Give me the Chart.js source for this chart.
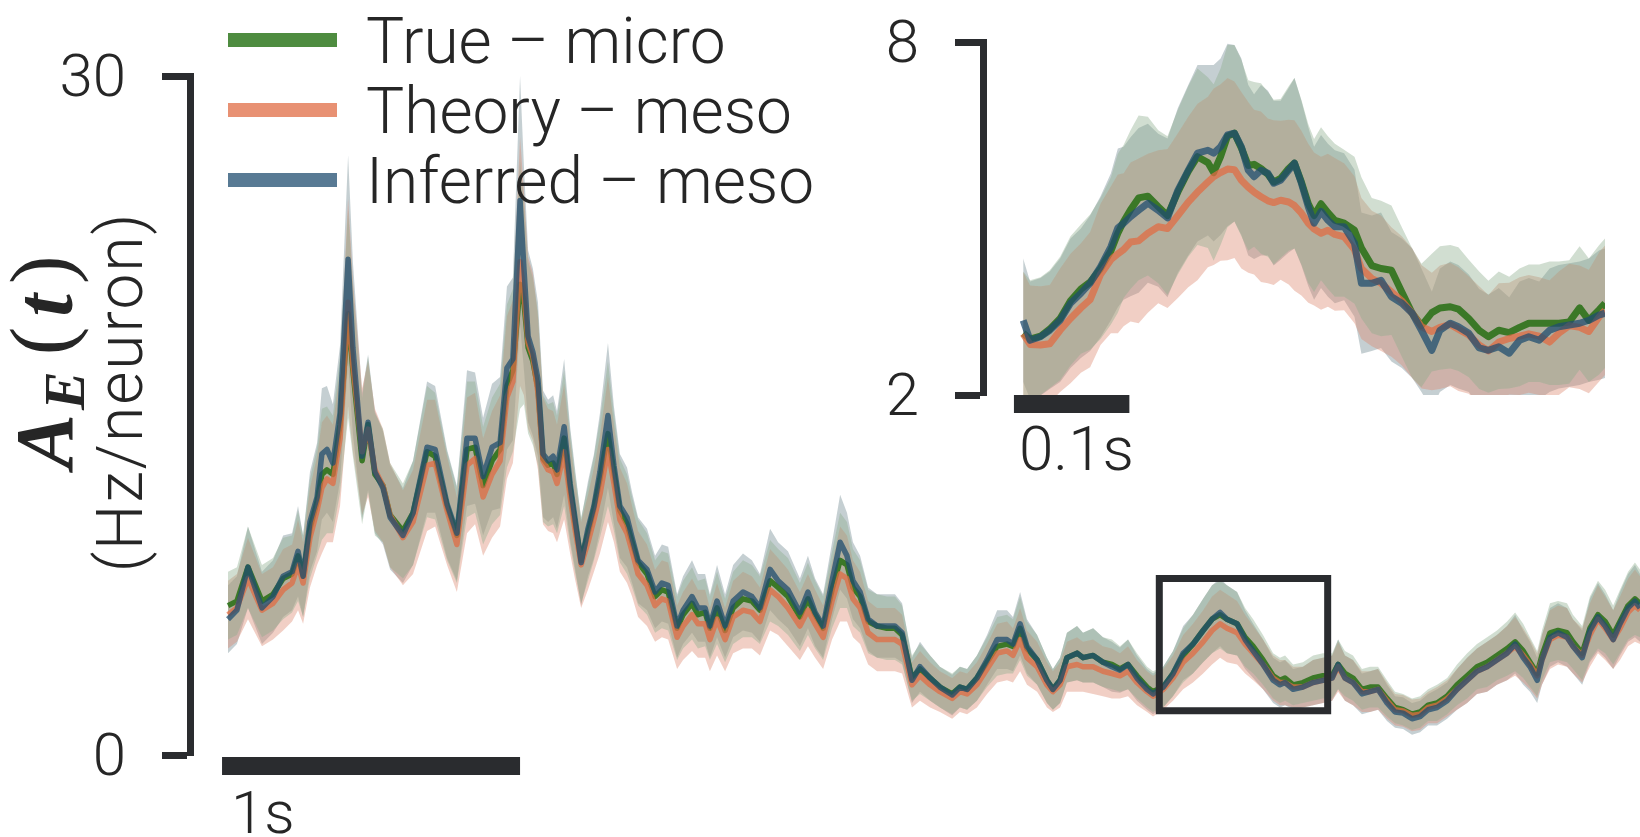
<!DOCTYPE html>
<html>
<head>
<meta charset="utf-8">
<script src="https://cdn.jsdelivr.net/npm/chart.js@4.4.1/dist/chart.umd.min.js"></script>
<style>
  html, body { margin: 0; padding: 0; background: #ffffff; }
  #wrap { position: relative; width: 1640px; height: 837px; overflow: hidden; }
  #mainChart { position: absolute; left: 0; top: 0; }
  #insetChart { position: absolute; left: 800px; top: 0; }
</style>
</head>
<body>
<div id="wrap">
  <canvas id="mainChart" width="1640" height="837"></canvas>
  <canvas id="insetChart" width="840" height="480"></canvas>
</div>
<script>
// ---- population activity A_E(t), full trace (seconds, Hz/neuron) ----
const timeS = [
  0.000,0.030,0.067,0.114,0.151,0.185,0.215,0.235,0.252,0.275,
  0.299,0.315,0.332,0.352,0.376,0.403,0.419,0.450,0.470,0.493,
  0.520,0.544,0.587,0.621,0.668,0.695,0.735,0.768,0.802,0.829,
  0.856,0.886,0.913,0.936,0.956,0.980,0.993,1.007,1.023,1.040,
  1.057,1.074,1.091,1.104,1.128,1.148,1.164,1.185,1.208,1.228,
  1.248,1.275,1.295,1.315,1.339,1.356,1.376,1.406,1.433,1.456,
  1.477,1.507,1.527,1.557,1.577,1.601,1.617,1.641,1.668,1.695,
  1.728,1.758,1.785,1.819,1.846,1.879,1.919,1.946,1.970,1.997,
  2.027,2.054,2.077,2.097,2.121,2.148,2.178,2.211,2.238,2.262,
  2.295,2.322,2.356,2.389,2.430,2.456,2.480,2.513,2.547,2.581,
  2.614,2.634,2.658,2.681,2.715,2.748,2.768,2.792,2.815,2.849,
  2.869,2.903,2.936,2.966,2.993,3.020,3.050,3.084,3.104,3.138,
  3.171,3.205,3.238,3.272,3.302,3.329,3.352,3.386,3.413,3.440,
  3.473,3.507,3.530,3.547,3.574,3.607,3.641,3.674,3.705,3.725,
  3.748,3.775,3.805,3.832,3.859,3.889,3.916,3.943,3.973,4.000,
  4.027,4.057,4.091,4.124,4.158,4.191,4.225,4.258,4.292,4.319,
  4.346,4.369,4.393,4.409,4.436,4.463,4.493,4.513,4.544,4.570,
  4.597,4.621,4.648,4.671,4.698,4.721,4.738
];
const trueMicro = [
  6.6,6.8,8.3,6.8,7.1,7.8,8.0,8.8,7.9,10.0,
  11.2,12.4,12.6,12.4,14.6,19.5,17.0,13.0,14.6,12.4,
  11.9,10.6,9.9,10.7,13.4,13.2,11.0,9.7,13.5,13.6,
  11.9,13.0,13.5,16.3,17.0,20.8,20.0,18.0,17.4,16.2,
  13.1,12.8,12.9,12.4,14.0,11.8,10.3,8.6,9.8,10.9,
  12.2,14.2,12.5,10.8,10.2,9.4,8.5,8.0,7.0,7.3,
  7.2,5.6,6.2,6.7,6.2,6.3,5.6,6.5,5.5,6.5,
  6.9,6.8,6.4,7.7,7.4,7.0,6.1,6.9,6.2,5.6,
  7.3,8.6,8.4,7.4,7.0,5.9,5.7,5.6,5.6,5.3,
  3.4,3.8,3.4,3.0,2.7,3.0,2.9,3.4,4.1,4.8,
  4.9,4.8,5.6,4.7,4.2,3.3,2.9,3.3,4.3,4.5,
  4.3,4.4,4.1,4.0,3.8,4.0,3.5,3.0,2.8,3.0,
  3.6,4.4,4.9,5.5,6.0,6.2,6.0,5.8,5.2,4.8,
  4.2,3.5,3.3,3.4,3.1,3.2,3.4,3.5,3.5,4.0,
  3.6,3.4,2.9,3.0,3.0,2.5,2.1,2.0,1.8,1.9,
  2.2,2.3,2.6,3.1,3.5,3.9,4.1,4.4,4.7,5.0,
  4.6,4.1,3.6,4.4,5.4,5.5,5.4,5.0,4.5,5.6,
  6.2,5.9,5.3,5.9,6.6,6.9,6.7
];
const theoryMeso = [
  6.2,6.5,7.8,6.4,6.7,7.3,7.6,8.4,7.6,9.6,
  10.8,11.8,12.2,12.0,14.0,20.0,17.2,13.4,14.4,12.6,
  11.9,10.6,9.6,10.3,12.8,12.9,10.8,9.3,12.8,13.1,
  11.4,12.4,13.0,15.8,16.5,21.8,20.4,18.2,17.6,16.0,
  13.0,12.6,12.5,12.0,13.4,11.4,10.0,8.4,9.4,10.4,
  11.5,13.5,12.0,10.4,9.8,9.0,8.0,7.5,6.6,6.9,
  6.8,5.2,5.7,6.2,5.8,5.8,5.1,6.0,5.1,6.1,
  6.4,6.3,5.9,7.3,7.0,6.5,5.7,6.4,5.8,5.2,
  6.8,8.0,7.8,6.9,6.5,5.4,5.1,5.1,5.1,4.9,
  3.1,3.5,3.1,2.8,2.5,2.8,2.7,3.1,3.8,4.5,
  4.6,4.4,5.1,4.3,3.9,3.1,2.8,3.1,3.9,4.0,
  3.9,3.9,3.7,3.6,3.5,3.7,3.2,2.8,2.6,2.9,
  3.4,4.1,4.5,5.0,5.5,5.8,5.6,5.4,4.9,4.5,
  4.0,3.4,3.2,3.2,3.0,3.0,3.2,3.3,3.4,3.9,
  3.4,3.2,2.8,2.8,2.9,2.4,2.0,1.95,1.75,1.8,
  2.1,2.2,2.5,2.9,3.3,3.7,3.9,4.2,4.5,4.8,
  4.4,4.0,3.5,4.2,5.1,5.3,5.2,4.8,4.4,5.3,
  6.0,5.6,5.1,5.6,6.3,6.6,6.4
];
const inferredMeso = [
  6.0,6.4,8.3,6.5,7.0,7.9,8.1,9.0,7.9,10.3,
  11.4,13.3,13.5,12.9,15.1,21.9,18.0,13.2,14.7,12.5,
  11.8,10.5,9.7,10.7,13.6,13.5,11.1,9.8,14.0,14.0,
  12.3,13.6,13.8,17.1,17.5,24.5,21.5,18.5,17.8,16.6,
  13.3,13.0,13.2,12.6,14.5,12.0,10.5,8.5,10.0,11.0,
  12.5,15.0,12.8,11.0,10.5,9.6,8.6,8.2,7.2,7.6,
  7.5,5.7,6.4,7.0,6.5,6.5,5.7,6.8,5.7,6.8,
  7.2,7.0,6.5,8.2,7.7,7.3,6.3,7.2,6.3,5.7,
  7.7,9.4,8.8,7.7,7.2,6.0,5.7,5.7,5.7,5.4,
  3.3,3.9,3.4,3.0,2.65,3.0,2.9,3.4,4.2,5.1,
  5.1,4.9,5.8,4.8,4.2,3.3,2.9,3.3,4.3,4.5,
  4.3,4.4,4.1,3.9,3.75,4.0,3.4,2.9,2.7,3.0,
  3.6,4.5,4.9,5.5,6.0,6.3,6.0,5.8,5.1,4.6,
  4.0,3.3,3.1,3.2,2.9,3.0,3.2,3.3,3.4,4.0,
  3.4,3.2,2.7,2.8,2.9,2.3,1.9,1.85,1.6,1.7,
  2.0,2.1,2.4,2.9,3.3,3.7,3.9,4.2,4.5,4.9,
  4.3,3.9,3.3,4.2,5.2,5.4,5.2,4.8,4.3,5.5,
  6.1,5.7,5.1,5.8,6.5,6.8,6.5
];
// trial-to-trial spread (one standard deviation) around each mean trace
const spreadMain = [
  1.5,1.5,1.8,1.6,1.6,1.8,1.7,2.0,1.8,2.2,
  2.4,2.9,2.8,2.6,3.0,4.6,3.8,2.8,3.0,2.7,
  2.5,2.3,2.1,2.3,2.9,2.8,2.4,2.1,3.0,2.9,
  2.6,2.8,2.9,3.6,3.6,5.5,4.5,3.8,3.7,3.4,
  2.8,2.7,2.7,2.6,3.0,2.5,2.2,1.9,2.1,2.3,
  2.6,3.2,2.6,2.3,2.2,2.0,1.9,1.8,1.6,1.7,
  1.7,1.4,1.5,1.6,1.5,1.5,1.4,1.6,1.4,1.6,
  1.7,1.6,1.5,1.8,1.7,1.7,1.5,1.6,1.5,1.4,
  1.7,2.1,1.9,1.7,1.6,1.4,1.4,1.4,1.4,1.3,
  1.0,1.1,1.0,0.9,0.9,0.9,0.9,1.0,1.1,1.3,
  1.3,1.2,1.4,1.2,1.1,1.0,0.9,1.0,1.1,1.2,
  1.1,1.2,1.1,1.1,1.0,1.1,1.0,0.9,0.9,0.9,
  1.0,1.2,1.3,1.4,1.5,1.5,1.5,1.4,1.3,1.2,
  1.1,1.0,1.0,1.0,0.9,0.9,1.0,1.0,1.0,1.1,
  1.0,1.0,0.9,0.9,0.9,0.8,0.7,0.7,0.7,0.7,
  0.7,0.8,0.8,0.9,1.0,1.0,1.1,1.1,1.2,1.3,
  1.2,1.1,1.0,1.1,1.3,1.3,1.3,1.2,1.2,1.4,
  1.5,1.4,1.3,1.4,1.5,1.6,1.5
];

// ---- zoomed window (time relative to window start, s) ----
const insetTimeS = [
  0.000,0.006,0.015,0.023,0.032,0.041,0.050,0.058,0.067,0.076,
  0.082,0.087,0.093,0.100,0.108,0.117,0.125,0.134,0.143,0.151,
  0.160,0.165,0.171,0.177,0.183,0.189,0.195,0.200,0.206,0.212,
  0.217,0.223,0.230,0.235,0.241,0.247,0.252,0.258,0.264,0.270,
  0.278,0.287,0.293,0.302,0.310,0.319,0.328,0.337,0.345,0.354,
  0.361,0.370,0.377,0.386,0.395,0.403,0.412,0.421,0.430,0.438,
  0.447,0.456,0.464,0.473,0.482,0.490,0.499,0.504
];
const insetTrue = [
  3.05,2.95,3.00,3.12,3.30,3.60,3.80,3.92,4.15,4.45,
  4.75,4.95,5.15,5.35,5.38,5.20,5.05,5.45,5.80,6.05,
  5.95,5.78,6.05,6.40,6.45,6.20,5.90,5.92,5.85,5.75,
  5.62,5.68,5.85,5.94,5.62,5.25,5.05,5.25,5.10,4.97,
  4.92,4.80,4.50,4.20,4.15,4.12,3.75,3.39,3.18,3.40,
  3.48,3.50,3.46,3.30,3.10,2.99,3.10,3.06,3.15,3.22,
  3.22,3.22,3.22,3.24,3.48,3.27,3.45,3.56
];
const insetTheory = [
  3.04,2.86,2.85,2.87,3.10,3.30,3.48,3.62,4.05,4.30,
  4.40,4.47,4.60,4.62,4.75,4.86,4.83,5.05,5.28,5.45,
  5.62,5.71,5.78,5.84,5.83,5.65,5.53,5.45,5.37,5.30,
  5.27,5.31,5.28,5.22,5.09,4.92,4.82,4.75,4.80,4.73,
  4.69,4.47,4.15,3.98,3.90,3.75,3.60,3.39,3.16,3.08,
  3.15,3.20,3.12,3.02,2.85,2.75,2.90,2.96,3.00,3.04,
  3.00,2.90,3.05,3.18,3.15,3.08,3.33,3.44
];
const insetInferred = [
  3.27,2.93,2.99,3.10,3.27,3.56,3.73,3.90,4.18,4.52,
  4.84,4.92,5.03,5.14,5.26,5.14,5.01,5.48,5.82,6.11,
  6.16,6.11,6.22,6.42,6.45,6.22,5.82,5.71,5.82,5.77,
  5.60,5.65,5.82,5.94,5.60,5.20,4.92,5.12,4.97,4.86,
  4.86,4.58,3.90,3.90,3.95,3.67,3.56,3.39,3.10,2.76,
  3.10,3.22,3.16,3.05,2.80,2.76,2.82,2.71,2.93,2.99,
  2.93,3.10,3.16,3.19,3.22,3.27,3.36,3.39
];
const insetSpread = [
  1.05,1.00,1.00,1.00,1.05,1.10,1.10,1.15,1.20,1.25,
  1.35,1.30,1.35,1.40,1.35,1.30,1.35,1.40,1.45,1.50,
  1.45,1.50,1.50,1.55,1.50,1.50,1.45,1.40,1.45,1.40,
  1.40,1.35,1.40,1.45,1.40,1.35,1.30,1.30,1.30,1.30,
  1.25,1.25,1.20,1.15,1.15,1.10,1.10,1.10,1.05,1.00,
  1.05,1.05,1.05,1.00,1.00,0.95,1.00,0.95,1.00,1.00,
  1.00,1.05,1.05,1.05,1.05,1.05,1.10,1.10
];

const seriesLabels = ['True \u2013 micro', 'Theory \u2013 meso', 'Inferred \u2013 meso'];
const mainYTicks = [0, 30];
const insetYTicks = [2, 8];
const zoomBox = { t0: 3.125, t1: 3.69, lo: 1.95, hi: 7.8 };   // marked window (s, Hz/neuron)
const mainBar = { t0: -0.02, t1: 0.98, y: -0.49, label: '1s' };
const insetBar = { t0: -0.008, t1: 0.092, y: 1.847, label: '0.1s' };

// ---- styling ----
const INK = '#2a2c2f';
const TEXT = '#262626';
const SANS = 'Roboto, "DejaVu Sans", sans-serif';
const lineColors = ['rgba(19,101,0,0.75)', 'rgba(224,108,68,0.75)', 'rgba(32,77,112,0.75)'];
const bandColors = ['rgba(140,172,140,0.40)', 'rgba(220,135,110,0.40)', 'rgba(110,135,142,0.40)'];

function pts(t, v) { return t.map((x, i) => ({ x: x, y: v[i] })); }
function edge(t, v, sd, sign) { return t.map((x, i) => ({ x: x, y: v[i] + sign * sd[i] })); }

function traceDatasets(t, series, sd, lw, clip) {
  const ds = [];
  // mean traces: inferred on top, then theory, then true
  ds.push({ data: pts(t, series[2]), borderColor: lineColors[2], borderWidth: lw, order: 1, clip: clip });
  ds.push({ data: pts(t, series[1]), borderColor: lineColors[1], borderWidth: lw, order: 2, clip: clip });
  ds.push({ data: pts(t, series[0]), borderColor: lineColors[0], borderWidth: lw, order: 3, clip: clip });
  // shaded spread bands (upper edge, then lower edge filled to it)
  series.forEach((m, k) => {
    ds.push({ data: edge(t, m, sd, 1), borderWidth: 0, borderColor: 'rgba(0,0,0,0)', fill: false, order: 10 + 2 * k, clip: clip });
    ds.push({ data: edge(t, m, sd, -1), borderWidth: 0, borderColor: 'rgba(0,0,0,0)', fill: '-1', backgroundColor: bandColors[k], order: 11 + 2 * k, clip: clip });
  });
  return ds;
}

function barDataset(bar) {
  return { data: [{ x: bar.t0, y: bar.y }, { x: bar.t1, y: bar.y }], borderColor: INK, borderWidth: 18,
           borderCapStyle: 'butt', fill: false, order: 0, clip: false };
}

function yAxis(lo, hi, ticks, width) {
  return {
    type: 'linear', position: 'left', min: lo, max: hi,
    afterBuildTicks: s => { s.ticks = ticks.map(v => ({ value: v })); },
    // fixed axis width; the end labels may overhang the plot area freely
    afterFit: s => { s.width = width; s.paddingTop = 0; s.paddingBottom = 0; },
    ticks: { font: { family: SANS, size: 60, weight: '300' }, color: TEXT, padding: 36, labelOffset: 5,
             callback: v => String(v) },
    grid: { drawOnChartArea: false, drawTicks: true, tickLength: 28, tickWidth: 7, tickColor: INK },
    border: { display: true, width: 7, color: INK }
  };
}

const baseOptions = {
  responsive: false, animation: false, devicePixelRatio: 1,
  plugins: { legend: { display: false }, tooltip: { enabled: false } },
  elements: { point: { radius: 0, hoverRadius: 0 }, line: { tension: 0, borderJoinStyle: 'round', borderCapStyle: 'butt' } },
  events: []
};

// legend, y-axis title and scale-bar caption for the full trace
const mainDecor = {
  id: 'mainDecor',
  afterDraw(chart) {
    const ctx = chart.ctx;
    const xs = chart.scales.x;
    ctx.save();
    const rows = [40, 110, 180];
    seriesLabels.forEach((lab, i) => {
      ctx.fillStyle = lineColors[i];
      ctx.fillRect(228, rows[i] - 7, 109, 14);
      ctx.fillStyle = TEXT;
      ctx.font = '300 64px ' + SANS;
      ctx.textAlign = 'left';
      ctx.textBaseline = 'alphabetic';
      ctx.fillText(lab, 366, rows[i] + 23);
    });
    ctx.font = '300 60px ' + SANS;
    ctx.fillText(mainBar.label, xs.getPixelForValue(mainBar.t0) + 9, 833);

    // "(Hz/neuron)"
    ctx.translate(126, 392);
    ctx.rotate(-Math.PI / 2);
    ctx.textAlign = 'center';
    ctx.textBaseline = 'middle';
    ctx.font = '300 64px ' + SANS;
    if ('letterSpacing' in ctx) ctx.letterSpacing = '2px';
    ctx.fillText('(Hz/neuron)', 0, 0);
    ctx.restore();

    // "A_E(t)"
    ctx.save();
    ctx.translate(72, 362);
    ctx.rotate(-Math.PI / 2);
    ctx.fillStyle = TEXT;
    ctx.textBaseline = 'alphabetic';
    ctx.textAlign = 'left';
    const fA = 'italic bold 82px "Liberation Serif", serif';
    const fE = 'italic bold 58px "Liberation Serif", serif';
    const fP = '86px "Liberation Serif", serif';
    ctx.font = fA; const wA = ctx.measureText('A').width;
    ctx.font = fE; const wE = ctx.measureText('E').width;
    ctx.font = fP; const wL = ctx.measureText('(').width;
    ctx.font = fA; const wt = ctx.measureText('t').width;
    ctx.font = fP; const wR = ctx.measureText(')').width;
    const gap = 10;
    let x = -(wA + wE + wL + wt + wR + 4 * gap) / 2;
    ctx.font = fA; ctx.fillText('A', x, 0); x += wA + gap - 6;
    ctx.font = fE; ctx.fillText('E', x, 12); x += wE + gap + 6;
    ctx.font = fP; ctx.fillText('(', x, -2); x += wL + gap;
    ctx.font = fA; ctx.fillText('t', x, 0); x += wt + gap;
    ctx.font = fP; ctx.fillText(')', x, -2);
    ctx.restore();
  }
};

const insetDecor = {
  id: 'insetDecor',
  afterDraw(chart) {
    const ctx = chart.ctx;
    const xs = chart.scales.x;
    ctx.save();
    ctx.fillStyle = TEXT;
    ctx.font = '300 62px ' + SANS;
    ctx.textAlign = 'left';
    ctx.textBaseline = 'alphabetic';
    ctx.fillText(insetBar.label, xs.getPixelForValue(insetBar.t0) + 5, 470);
    ctx.restore();
  }
};

// ---- full trace ----
const mainSets = traceDatasets(timeS, [trueMicro, theoryMeso, inferredMeso], spreadMain, 5.5, false);
mainSets.push(barDataset(mainBar));
mainSets.push({
  data: [{ x: zoomBox.t0, y: zoomBox.lo }, { x: zoomBox.t1, y: zoomBox.lo }, { x: zoomBox.t1, y: zoomBox.hi },
         { x: zoomBox.t0, y: zoomBox.hi }, { x: zoomBox.t0, y: zoomBox.lo }],
  borderColor: INK, borderWidth: 7, borderJoinStyle: 'miter', borderCapStyle: 'square',
  tension: 0.000001, fill: false, order: 0, clip: false
});

new Chart(document.getElementById('mainChart'), {
  type: 'line',
  data: { datasets: mainSets },
  options: Object.assign({}, baseOptions, {
    layout: { padding: { left: 0, right: 0, top: 76, bottom: 82 } },
    scales: {
      x: { type: 'linear', min: -0.1275, max: 4.738, display: false },
      y: yAxis(0, 30, mainYTicks, 190)
    }
  }),
  plugins: [mainDecor]
});

// ---- zoomed window ----
const insetSets = traceDatasets(insetTimeS, [insetTrue, insetTheory, insetInferred], insetSpread, 7, undefined);
insetSets.push(barDataset(insetBar));

new Chart(document.getElementById('insetChart'), {
  type: 'line',
  data: { datasets: insetSets },
  options: Object.assign({}, baseOptions, {
    layout: { padding: { left: 0, right: 35, top: 42, bottom: 85 } },
    scales: {
      x: { type: 'linear', min: -0.0348, max: 0.504, display: false },
      y: yAxis(2, 8, insetYTicks, 183)
    }
  }),
  plugins: [insetDecor]
});
</script>
</body>
</html>
